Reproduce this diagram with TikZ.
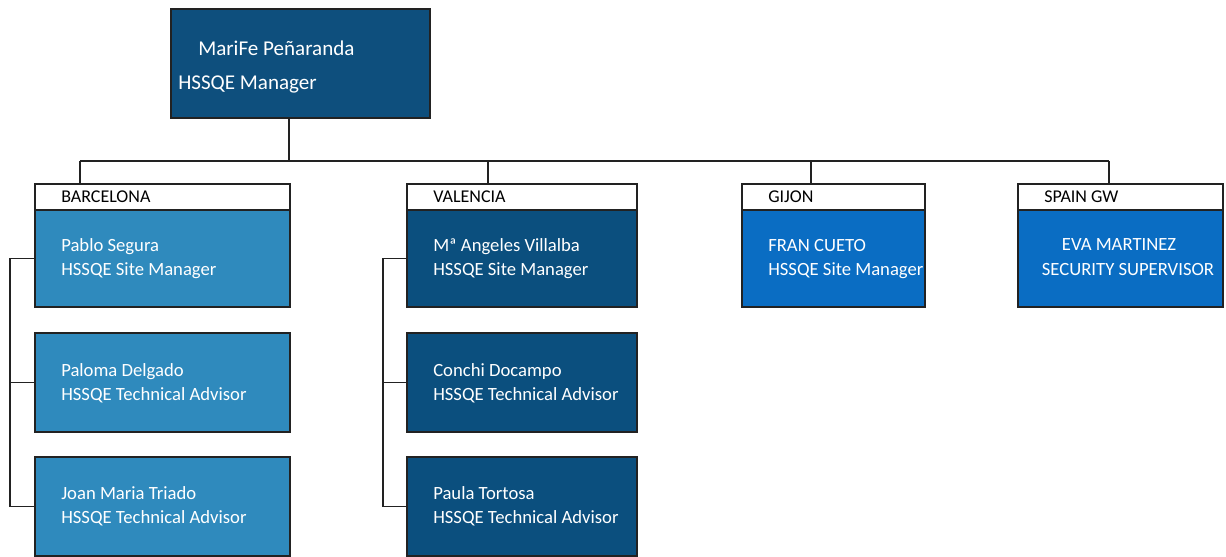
\documentclass[tikz,border=0pt]{standalone}
\usepackage{fontspec}
\setmainfont{Carlito}
\definecolor{topblue}{HTML}{0E4F7D}
\definecolor{bcnblue}{HTML}{2F8ABD}
\definecolor{vlcblue}{HTML}{0B4F7E}
\definecolor{brblue}{HTML}{0A6DC3}
\definecolor{edge}{HTML}{222222}
\begin{document}
\begin{tikzpicture}[x=0.75pt,y=-0.75pt,
  box/.style={draw=edge,line width=0.8pt,anchor=north west,inner sep=0pt,outer sep=0pt},
  hdr/.style={box,fill=white,minimum height=19.5pt},
  body/.style={box,minimum height=72.75pt},
  sub/.style={box,minimum height=74.25pt},
  wtxt/.style={text=white,font=\fontsize{14}{18}\selectfont,align=left,anchor=west,inner sep=0pt},
  htxt/.style={text=black,font=\fontsize{13.5}{15}\selectfont,anchor=west,inner sep=0pt},
  ttxt/.style={text=white,font=\fontsize{15.8}{18}\selectfont,anchor=west,inner sep=0pt},
  conn/.style={draw=edge,line width=0.9pt}]
\useasboundingbox (0,0) rectangle (1226,556);
% top
\node[box,fill=topblue,minimum width=194.25pt,minimum height=81.75pt] (top) at (171,9) {};
\node[ttxt] (topname) at (198,48) {MariFe Peñaranda};
\node[ttxt] (toprole) at (178,84) {HSSQE Manager};
\coordinate (barL) at (80,161);
\coordinate (barR) at (1109,161);
\coordinate (topdrop) at (289,161);
% Barcelona
\node[hdr,minimum width=191.25pt] (bh) at (35,184) {};
\node[htxt] (bht) at (61,197) {BARCELONA};
\node[body,fill=bcnblue,minimum width=191.25pt] (b1) at (35,210) {};
\node[wtxt] (b1t) at (61,259) {Pablo Segura\\HSSQE Site Manager};
\node[sub,fill=bcnblue,minimum width=191.25pt] (b2) at (35,333) {};
\node[wtxt] (b2t) at (61,383) {Paloma Delgado\\HSSQE Technical Advisor};
\node[sub,fill=bcnblue,minimum width=191.25pt] (b3) at (35,457) {};
\node[wtxt] (b3t) at (61,506) {Joan Maria Triado\\HSSQE Technical Advisor};
% Valencia
\node[hdr,minimum width=172.5pt] (vh) at (407,184) {};
\node[htxt] (vht) at (433,197) {VALENCIA};
\node[body,fill=vlcblue,minimum width=172.5pt] (v1) at (407,210) {};
\node[wtxt] (v1t) at (433,259) {Mª Angeles Villalba\\HSSQE Site Manager};
\node[sub,fill=vlcblue,minimum width=172.5pt] (v2) at (407,333) {};
\node[wtxt] (v2t) at (433,383) {Conchi Docampo\\HSSQE Technical Advisor};
\node[sub,fill=vlcblue,minimum width=172.5pt] (v3) at (407,457) {};
\node[wtxt] (v3t) at (433,506) {Paula Tortosa\\HSSQE Technical Advisor};
% Gijon
\node[hdr,minimum width=137.25pt] (gh) at (742,184) {};
\node[htxt] (ght) at (768,197) {GIJON};
\node[body,fill=brblue,minimum width=137.25pt] (g1) at (742,210) {};
\node[wtxt] (g1t) at (768,259) {FRAN CUETO\\HSSQE Site Manager};
% Spain GW
\node[hdr,minimum width=153.75pt] (sh) at (1018,184) {};
\node[htxt] (sht) at (1044,197) {SPAIN GW};
\node[body,fill=brblue,minimum width=153.75pt] (s1) at (1018,210) {};
\node[wtxt,anchor=center] (s1n) at (1119,245) {EVA MARTINEZ};
\node[wtxt,anchor=center] (s1r) at (1128,270) {SECURITY SUPERVISOR};
% connectors
\path[conn] (topdrop |- top.south) -- (topdrop);
\path[conn] (barL) -- (barR);
\path[conn] (barL) -- (barL |- bh.north);
\coordinate (vdrop) at (488,161);
\coordinate (gdrop) at (811,161);
\path[conn] (vdrop) -- (vdrop |- vh.north);
\path[conn] (gdrop) -- (gdrop |- gh.north);
\path[conn] (barR) -- (barR |- sh.north);
\coordinate (bx) at (10,0);
\coordinate (vx) at (383,0);
\path[conn] (b1.west) -- (b1.west -| bx) |- (b3.west);
\path[conn] (b2.west) -- (b2.west -| bx);
\path[conn] (v1.west) -- (v1.west -| vx) |- (v3.west);
\path[conn] (v2.west) -- (v2.west -| vx);
\end{tikzpicture}
\end{document}
